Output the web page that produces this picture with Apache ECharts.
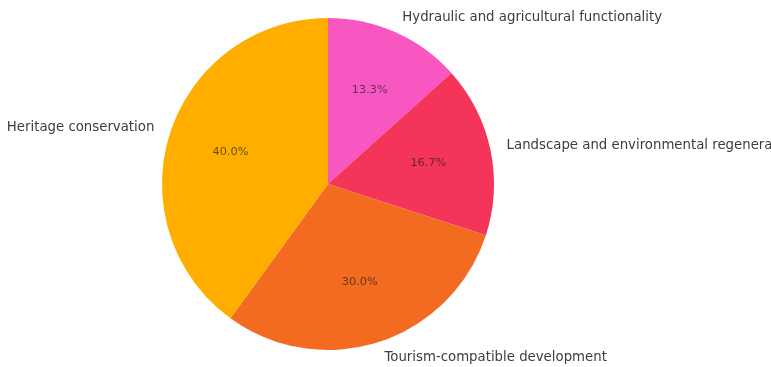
<!DOCTYPE html>
<html>
<head>
<meta charset="utf-8">
<script src="https://cdn.jsdelivr.net/npm/echarts@6/dist/echarts.min.js"></script>
<style>
  html, body { margin: 0; padding: 0; background: #ffffff; }
  #chart { width: 771px; height: 367px; }
</style>
</head>
<body>
<div id="chart"></div>
<script>
// Share of project priorities (counts out of 30 responses)
const categories = [
  'Hydraulic and agricultural functionality',
  'Landscape and environmental regeneration',
  'Tourism-compatible development',
  'Heritage conservation'
];
const counts = [4, 5, 9, 12];
const colors = ['#F857C1', '#F5345A', '#F26B21', '#FFAE00'];

const total = counts.reduce((a, b) => a + b, 0);
const slices = categories.map((name, i) => ({
  name: name,
  value: counts[i],
  itemStyle: { color: colors[i] }
}));

const center = [328, 184];
const R = 166;

const chart = echarts.init(document.getElementById('chart'), null, { renderer: 'canvas' });
chart.setOption({
  backgroundColor: '#ffffff',
  animation: false,
  series: [
    {
      // coloured wedges with category names just outside the rim
      type: 'pie',
      center: center,
      radius: [0, R],
      startAngle: 90,
      clockwise: true,
      avoidLabelOverlap: false,
      silent: true,
      data: slices,
      label: {
        show: true,
        position: 'outside',
        alignTo: 'none',
        distanceToLabelLine: 0,
        formatter: '{b}',
        fontFamily: 'DejaVu Sans',
        fontSize: 13.3,
        color: '#3d3d3d'
      },
      labelLine: { show: false, length: R * 0.1, length2: 0 },
      itemStyle: { borderWidth: 0 }
    },
    {
      // percentage labels placed at 0.6 of the radius
      type: 'pie',
      center: center,
      radius: [R * 0.2, R],
      startAngle: 90,
      clockwise: true,
      avoidLabelOverlap: false,
      silent: true,
      data: categories.map((name, i) => ({ name: name, value: counts[i] })),
      itemStyle: { color: 'rgba(0,0,0,0)', borderWidth: 0 },
      label: {
        show: true,
        position: 'inside',
        formatter: p => (p.value / total * 100).toFixed(1) + '%',
        fontFamily: 'DejaVu Sans',
        fontSize: 11.3,
        color: 'rgba(30,30,30,0.68)'
      },
      labelLine: { show: false }
    }
  ]
});
</script>
</body>
</html>
